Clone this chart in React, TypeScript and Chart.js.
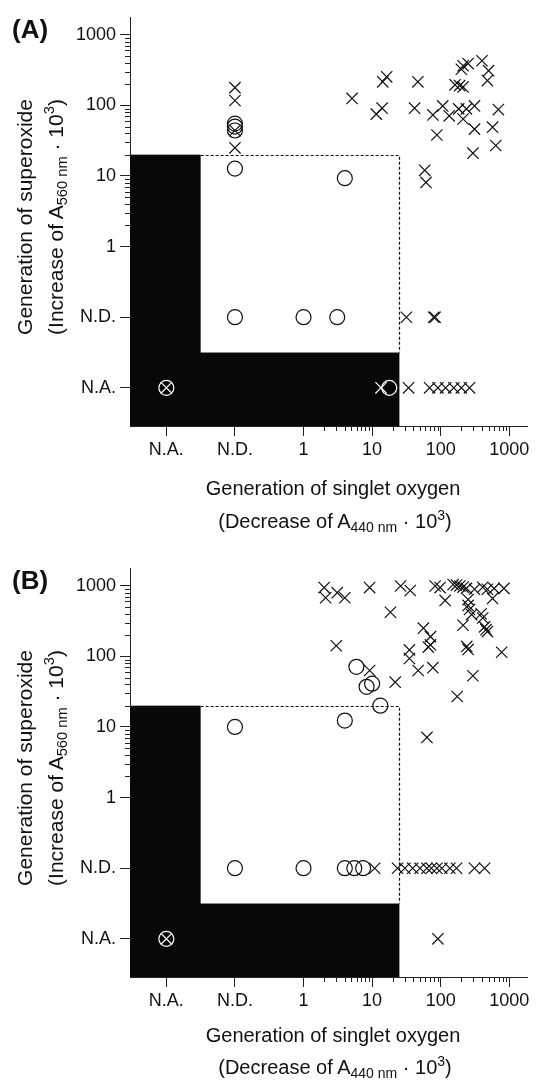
import React, { useEffect, useRef } from 'react';
import { Chart, registerables } from 'chart.js';
Chart.register(...registerables);

const NA = 'N.A.';
const ND = 'N.D.';
type V = number | string;

// axis ticks (log10 positions; N.A. and N.D. are placed one decade apart below 1)
const tickValues = [-2, -1, 0, 1, 2, 3];
const tickLabels = ['N.A.', 'N.D.', '1', '10', '100', '1000'];
const minorDecades = [0, 1, 2];
const minorMultipliers = [2, 3, 4, 5, 6, 7, 8, 9];

// thresholds of the white box
const superoxideLimit = 20;
const singletLimit = 25;

// Panel (A)
const aCrossX: V[] = [ND, ND, ND, ND, 5.1, 16.3, 14.3, 46.5, 14, 11.5, 41.6, 77, 107, 133, 88, 183, 212, 237, 311, 311, 295, 570, 635, 693, 400, 500, 480, 212, 200, 251, 162, 189, 212, 58.5, 61, 31.6, 79, 83, 13.5, 34, 69, 91, 118, 155, 200, 263, NA];
const aCrossY: V[] = [178, 117, 44, 25, 125, 253, 215, 215, 91, 75, 91, 73, 98, 71, 38, 89, 64, 89, 98, 46, 21, 49, 27, 87, 427, 309, 224, 363, 324, 390, 195, 190, 182, 12, 8.1, ND, ND, ND, NA, NA, NA, NA, NA, NA, NA, NA, NA];
const aCircleX: V[] = [ND, ND, ND, ND, 4.0, ND, 1.0, 3.1, 17.8, NA];
const aCircleY: V[] = [55, 50, 44, 12.7, 9.3, ND, ND, ND, NA, NA];

// Panel (B)
const bCrossX: V[] = [2.0, 2.1, 3.1, 4.0, 9.2, 26, 36, 83, 98, 116, 152, 170, 190, 212, 237, 311, 410, 480, 600, 835, 570, 251, 251, 263, 282, 389, 410, 212, 436, 458, 480, 18.5, 56, 71, 71, 66, 240, 251, 775, 3.0, 35, 35, 47, 77, 9.2, 21.7, 295, 174, 63, 10.9, 23.5, 30, 39, 50, 63, 73, 88, 104, 136, 170, 311, 436, 91, NA];
const bCrossY: V[] = [940, 675, 795, 675, 940, 990, 855, 990, 940, 618, 1040, 1020, 990, 955, 915, 890, 950, 890, 915, 915, 660, 635, 525, 460, 390, 400, 348, 275, 261, 238, 224, 420, 250, 190, 145, 135, 138, 125, 114, 141, 123, 93, 63, 69, 63, 43, 53, 27, 7.1, ND, ND, ND, ND, ND, ND, ND, ND, ND, ND, ND, ND, ND, NA, NA];
const bCircleX: V[] = [5.9, 8.3, 10, 13.2, 4.0, ND, ND, 1.0, 4.0, 5.5, 7.4, NA];
const bCircleY: V[] = [71, 37, 41, 20, 12.3, 10, ND, ND, ND, ND, ND, NA];

const FONT = '"Liberation Sans", Arial, Helvetica, sans-serif';
const BLACK_EDGE = -1.5;

function toPos(v: V): number {
  if (v === NA) return -2;
  if (v === ND) return -1;
  return Math.log10(v as number);
}
function pts(xs: V[], ys: V[]) {
  return xs.map((x, i) => ({ x: toPos(x), y: toPos(ys[i]) }));
}
function inBlack(p: any) {
  if (!p) return false;
  return (p.x < BLACK_EDGE && p.y < Math.log10(superoxideLimit)) || (p.y < BLACK_EDGE && p.x < Math.log10(singletLimit));
}

const regionPlugin = {
  id: 'regions',
  beforeDatasetsDraw(chart: any) {
    const { ctx, scales } = chart;
    const x = scales.x, y = scales.y;
    const xl = x.getPixelForValue(x.min);
    const yb = y.getPixelForValue(y.min);
    const xEdge = x.getPixelForValue(BLACK_EDGE);
    const yEdge = y.getPixelForValue(BLACK_EDGE);
    const yLim = y.getPixelForValue(Math.log10(superoxideLimit));
    const xLim = x.getPixelForValue(Math.log10(singletLimit));
    ctx.save();
    ctx.fillStyle = '#080808';
    ctx.fillRect(xl, yLim, xEdge - xl, yb - yLim);
    ctx.fillRect(xl, yEdge, xLim - xl, yb - yEdge);
    ctx.strokeStyle = '#111';
    ctx.lineWidth = 1.2;
    ctx.setLineDash([3, 2]);
    ctx.beginPath();
    ctx.moveTo(xEdge, Math.round(yLim) + 0.5);
    ctx.lineTo(Math.round(xLim) + 0.5, Math.round(yLim) + 0.5);
    ctx.lineTo(Math.round(xLim) + 0.5, yEdge);
    ctx.stroke();
    ctx.restore();
  },
  afterDraw(chart: any) {
    const { ctx, chartArea: a, scales } = chart;
    const x = scales.x, y = scales.y;
    ctx.save();
    ctx.strokeStyle = '#222';
    ctx.lineWidth = 1;
    ctx.beginPath();
    for (const d of minorDecades) {
      for (const m of minorMultipliers) {
        const v = d + Math.log10(m);
        const px = Math.round(x.getPixelForValue(v)) + 0.5;
        ctx.moveTo(px, a.bottom);
        ctx.lineTo(px, a.bottom + 5);
        const py = Math.round(y.getPixelForValue(v)) + 0.5;
        ctx.moveTo(a.left - 5, py);
        ctx.lineTo(a.left, py);
      }
    }
    ctx.stroke();
    ctx.restore();
  },
};

const W = 537;
const H = 532;
const PLOT_TOP = 17;
const PLOT_BOTTOM = 426;
const PLOT_LEFT = 130;

function scaleOpts(min: number, max: number, isX: boolean) {
  return {
    type: 'linear',
    min,
    max,
    afterBuildTicks: (s: any) => {
      s.ticks = tickValues.map((v) => ({ value: v }));
    },
    afterFit: (s: any) => {
      if (isX) s.height = H - PLOT_BOTTOM;
      else s.width = PLOT_LEFT;
    },
    ticks: {
      autoSkip: false,
      maxRotation: 0,
      padding: isX ? 3 : 4,
      color: '#111',
      font: { family: FONT, size: 18 },
      callback: (_v: any, i: number) => tickLabels[i],
    },
    grid: { drawOnChartArea: false, drawTicks: true, tickLength: 10, tickColor: '#222', tickWidth: 1 },
    border: { display: true, color: '#222', width: 1 },
  };
}

function Panel(props: { top: number; label: string; cx: V[]; cy: V[]; ox: V[]; oy: V[]; xt1: number; xt2: number }) {
  const ref = useRef<HTMLCanvasElement>(null);
  useEffect(() => {
    const colorFn = (c: any) => (inBlack(c.raw) ? '#ffffff' : '#111111');
    const chart = new Chart(ref.current as HTMLCanvasElement, {
      type: 'scatter',
      data: {
        datasets: [
          {
            data: pts(props.cx, props.cy),
            pointStyle: 'crossRot',
            pointRadius: 8,
            pointBorderWidth: 1.2,
            pointBorderColor: colorFn,
            pointBackgroundColor: 'rgba(0,0,0,0)',
            showLine: false,
          } as any,
          {
            data: pts(props.ox, props.oy),
            pointStyle: 'circle',
            pointRadius: 7.5,
            pointBorderWidth: 1.2,
            pointBorderColor: colorFn,
            pointBackgroundColor: 'rgba(0,0,0,0)',
            showLine: false,
          } as any,
        ],
      },
      options: {
        responsive: false,
        animation: false,
        devicePixelRatio: 1,
        events: [],
        layout: { padding: { top: PLOT_TOP, right: 2, left: 0, bottom: 0 } },
        plugins: { legend: { display: false }, tooltip: { enabled: false } },
        scales: {
          x: scaleOpts(-2.53, 3.27, true) as any,
          y: scaleOpts(-2.54, 3.25, false) as any,
        },
      },
      plugins: [regionPlugin],
    });
    return () => chart.destroy();
  }, []);

  const sub = { fontSize: '0.7em', verticalAlign: '-0.3em' } as React.CSSProperties;
  const sup = { fontSize: '0.7em', verticalAlign: '0.6em' } as React.CSSProperties;
  const rot = (cx: number, cy: number): React.CSSProperties => ({
    position: 'absolute',
    left: cx,
    top: cy,
    transform: 'translate(-50%, -50%) rotate(-90deg)',
    whiteSpace: 'nowrap',
    font: `21px ${FONT}`,
    lineHeight: 1,
    color: '#111',
  });
  const hor = (cx: number, cy: number): React.CSSProperties => ({
    position: 'absolute',
    left: cx,
    top: cy,
    transform: 'translate(-50%, -50%)',
    whiteSpace: 'nowrap',
    font: `20px ${FONT}`,
    lineHeight: 1,
    color: '#111',
  });

  return (
    <div style={{ position: 'absolute', left: 0, top: props.top, width: W, height: H }}>
      <canvas ref={ref} width={W} height={H} style={{ position: 'absolute', left: 0, top: 0 }} />
      <div style={{ position: 'absolute', left: 12, top: 16, font: `bold 26px ${FONT}`, lineHeight: 1, color: '#111' }}>
        {props.label}
      </div>
      <div style={rot(24, 217)}>Generation of superoxide</div>
      <div style={rot(56, 217)}>
        (Increase of A<span style={sub}>560 nm</span> · 10<span style={sup}>3</span>)
      </div>
      <div style={hor(333, props.xt1)}>Generation of singlet oxygen</div>
      <div style={hor(335, props.xt2)}>
        (Decrease of A<span style={sub}>440 nm</span> · 10<span style={sup}>3</span>)
      </div>
    </div>
  );
}

export default function App() {
  return (
    <div style={{ position: 'absolute', left: 0, top: 0, width: W, height: 1083, background: '#fff', overflow: 'hidden' }}>
      <Panel top={0} label="(A)" cx={aCrossX} cy={aCrossY} ox={aCircleX} oy={aCircleY} xt1={488} xt2={521} />
      <Panel top={551} label="(B)" cx={bCrossX} cy={bCrossY} ox={bCircleX} oy={bCircleY} xt1={484} xt2={516} />
    </div>
  );
}
